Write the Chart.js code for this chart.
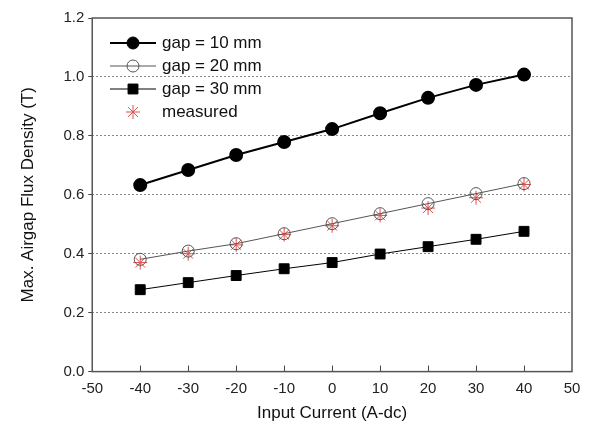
<!DOCTYPE html>
<html>
<head>
<meta charset="UTF-8">
<title>Airgap flux density</title>
<style>
  body { margin: 0; background: #fff; }
  #wrap { width: 592px; height: 436px; }
</style>
</head>
<body>
<div id="wrap"><canvas id="chart" width="592" height="436"></canvas></div>
<script src="https://cdn.jsdelivr.net/npm/chart.js"></script>
<script>
// valores
const current = [-40, -30, -20, -10, 0, 10, 20, 30, 40];
const gap10 = [0.633, 0.684, 0.735, 0.779, 0.823, 0.877, 0.929, 0.973, 1.008];
const gap20 = [0.381, 0.409, 0.434, 0.468, 0.502, 0.536, 0.570, 0.604, 0.638];
const gap30 = [0.278, 0.302, 0.326, 0.349, 0.370, 0.399, 0.424, 0.449, 0.476];
const measured = [0.370, 0.400, 0.430, 0.465, 0.495, 0.530, 0.555, 0.590, 0.635];
const labels = ['gap = 10 mm', 'gap = 20 mm', 'gap = 30 mm', 'measured'];

const pts = arr => arr.map((v, i) => ({x: current[i], y: v}));

// leyenda dentro del area del grafico
const insideLegend = {
  id: 'insideLegend',
  afterDraw(chart) {
    const ctx = chart.ctx;
    const x0 = 110, x1 = 156, tx = 162;
    const rows = [43, 66, 89, 112];
    ctx.save();
    ctx.font = '17px "Liberation Sans", Arial, sans-serif';
    ctx.textBaseline = 'middle';
    chart.data.datasets.forEach((ds, i) => {
      const y = rows[i];
      if (ds.showLine !== false) {
        ctx.strokeStyle = ds.borderColor;
        ctx.lineWidth = ds.borderWidth;
        ctx.beginPath(); ctx.moveTo(x0, y); ctx.lineTo(x1, y); ctx.stroke();
      }
      ctx.fillStyle = ds.pointBackgroundColor;
      ctx.strokeStyle = ds.pointBorderColor;
      ctx.lineWidth = ds.pointBorderWidth || 1;
      Chart.helpers.drawPoint(ctx, {
        pointStyle: ds.pointStyle,
        radius: ds.pointRadius,
        borderWidth: ds.pointBorderWidth || 1
      }, (x0 + x1) / 2, y);
      ctx.fillStyle = '#111';
      ctx.fillText(labels[i], tx, y);
    });
    ctx.restore();
  }
};

// marcas del eje x hacia adentro y marco
const innerTicks = {
  id: 'innerTicks',
  afterDraw(chart) {
    const ctx = chart.ctx, xs = chart.scales.x, a = chart.chartArea;
    ctx.save();
    ctx.strokeStyle = '#444';
    ctx.lineWidth = 1;
    for (let v = -40; v <= 40; v += 10) {
      const px = Math.round(xs.getPixelForValue(v)) + 0.5;
      ctx.beginPath(); ctx.moveTo(px, a.bottom); ctx.lineTo(px, a.bottom - 6); ctx.stroke();
    }
    ctx.strokeStyle = '#555';
    ctx.lineWidth = 1.5;
    ctx.strokeRect(a.left, a.top, a.right - a.left, a.bottom - a.top);
    ctx.restore();
  }
};

new Chart(document.getElementById('chart'), {
  type: 'scatter',
  data: {
    datasets: [
      {label: labels[0], data: pts(gap10), showLine: true, borderColor: '#000', borderWidth: 2,
       pointStyle: 'circle', pointRadius: 6, pointBackgroundColor: '#000', pointBorderColor: '#000'},
      {label: labels[1], data: pts(gap20), showLine: true, borderColor: '#555', borderWidth: 1,
       pointStyle: 'circle', pointRadius: 6, pointBackgroundColor: 'rgba(255,255,255,0)', pointBorderColor: '#555'},
      {label: labels[2], data: pts(gap30), showLine: true, borderColor: '#000', borderWidth: 1,
       pointStyle: 'rect', pointRadius: 7, pointBackgroundColor: '#000', pointBorderColor: '#000'},
      {label: labels[3], data: pts(measured), showLine: false, borderColor: '#d9534f', borderWidth: 1,
       pointStyle: 'star', pointRadius: 7, pointBackgroundColor: '#d9534f', pointBorderColor: '#d9534f'}
    ]
  },
  options: {
    responsive: false,
    animation: false,
    layout: {padding: {top: 18, right: 20, left: 18, bottom: 12}},
    plugins: {legend: {display: false}, tooltip: {enabled: false}},
    scales: {
      x: {
        min: -50, max: 50,
        ticks: {stepSize: 10, color: '#222', font: {size: 15, family: '"Liberation Sans", Arial'}, padding: 0},
        grid: {display: false},
        border: {display: false},
        title: {display: true, text: 'Input Current (A-dc)', color: '#111',
                font: {size: 17, family: '"Liberation Sans", Arial'}, padding: {top: 6, bottom: 0}}
      },
      y: {
        min: 0, max: 1.2,
        ticks: {stepSize: 0.2, color: '#222', font: {size: 15, family: '"Liberation Sans", Arial'},
                callback: v => v.toFixed(1), padding: 4},
        grid: {
          color: ctx => (ctx.tick.value > 0.01 && ctx.tick.value < 1.19) ? '#888' : 'rgba(0,0,0,0)',
          tickLength: 4, tickColor: '#444', tickBorderDash: []
        },
        border: {display: false, dash: [2, 2]},
        title: {display: true, text: 'Max. Airgap Flux Density (T)', color: '#111',
                font: {size: 17, family: '"Liberation Sans", Arial'}, padding: {top: 0, bottom: 21}}
      }
    }
  },
  plugins: [insideLegend, innerTicks]
});
</script>
</body>
</html>
